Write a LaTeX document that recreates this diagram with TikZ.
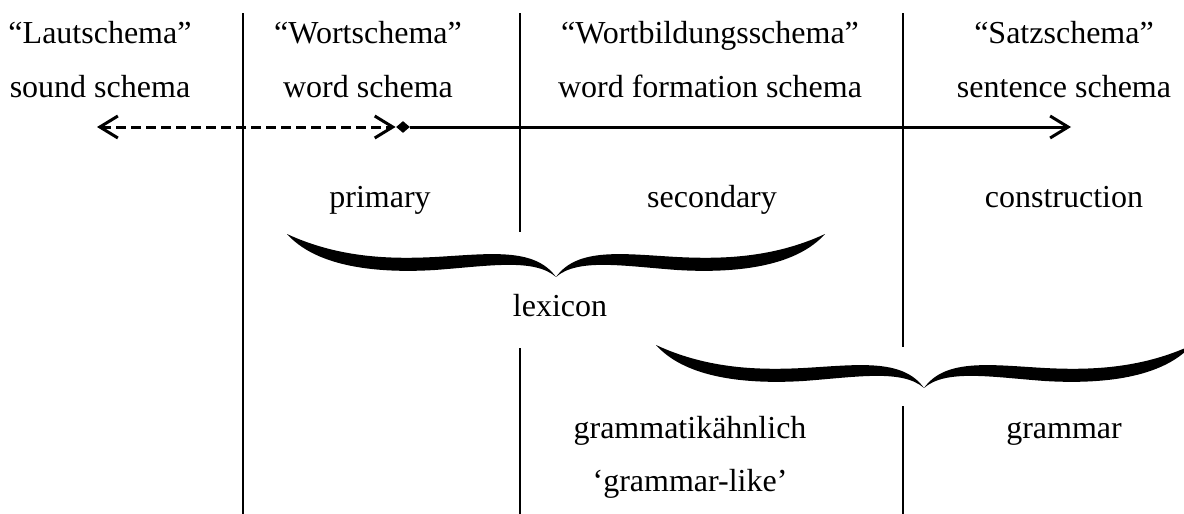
\documentclass[tikz,border=0pt]{standalone}
\usepackage{fontspec}
\setmainfont{Liberation Serif}
\usetikzlibrary{arrows.meta,shapes.geometric}

\tikzset{
  lbl/.style={anchor=base, inner sep=0pt, font=\fontsize{16}{19}\selectfont},
  divider/.style={line width=1pt},
  barb/.tip={Straight Barb[length=9pt,width=11pt]},
  flow/.style={line width=1.5pt},
  bigbrace/.pic={
    \fill (-100,43) .. controls (-80,18) and (-60,18) .. (-45,20)
      .. controls (-25,23) and (-8,30) .. (0,0)
      .. controls (8,30) and (25,23) .. (45,20)
      .. controls (60,18) and (80,18) .. (100,43)
      .. controls (90,13) and (70,3) .. (45,7)
      .. controls (25,11) and (8,19) .. (0,0)
      .. controls (-8,19) and (-25,11) .. (-45,7)
      .. controls (-70,3) and (-90,13) .. (-100,43) -- cycle;
  }
}

\begin{document}
\begin{tikzpicture}[x=0.5pt,y=-0.5pt]
\useasboundingbox (0,0) rectangle (1184,514);

% column dividers
\draw[divider] (243,13) -- (243,514);
\draw[divider] (520,13) -- (520,232);
\draw[divider] (520,348) -- (520,514);
\draw[divider] (903,13) -- (903,347);
\draw[divider] (903,406) -- (903,514);

% schema names
\node[lbl] (laut) at (100,43) {“Lautschema”};
\node[lbl] (wort) at (368,43) {“Wortschema”};
\node[lbl] (wortbild) at (710,43) {“Wortbildungsschema”};
\node[lbl] (satz) at (1064,43) {“Satzschema”};

\node[lbl] (sound) at (100,97) {sound schema};
\node[lbl] (word) at (368,97) {word schema};
\node[lbl] (wordform) at (710,97) {word formation schema};
\node[lbl] (sentence) at (1064,97) {sentence schema};

% the scale
\coordinate (lautend) at (97,127);
\node[diamond, fill, inner sep=0pt, minimum width=7pt, minimum height=6pt] (pivot) at (403,127) {};
\coordinate (satzend) at (1071,127);
\draw[flow, dash pattern=on 5pt off 2.5pt, barb-barb] (lautend) -- (pivot.west);
\draw[flow, -barb] (pivot) -- (satzend);

\node[lbl] (primary) at (380,207) {primary};
\node[lbl] (secondary) at (712,207) {secondary};
\node[lbl] (construction) at (1064,207) {construction};

% braces
\pic[xscale=2.69, yscale=-1] at (556,277) {bigbrace};
\node[lbl] (lexicon) at (560,316) {lexicon};

\pic[xscale=2.68, yscale=-1] at (924,388) {bigbrace};
\node[lbl] (gramlike) at (690,438) {grammatikähnlich};
\node[lbl] (gramlikeen) at (690,491) {‘grammar-like’};
\node[lbl] (grammar) at (1064,438) {grammar};
\end{tikzpicture}
\end{document}
